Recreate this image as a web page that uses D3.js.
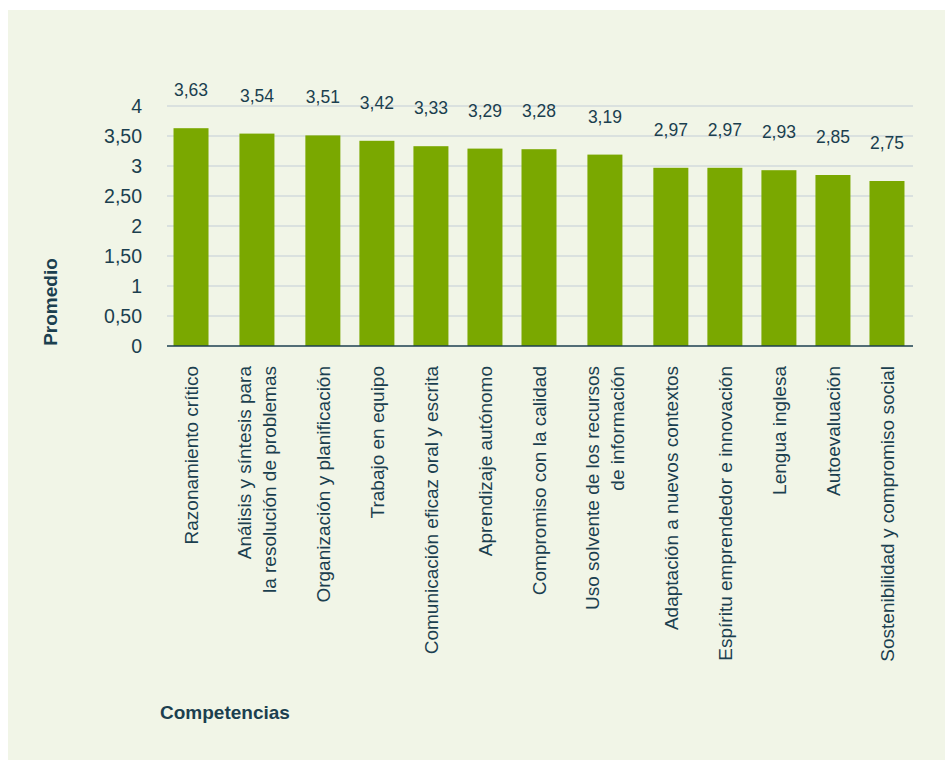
<!DOCTYPE html>
<html>
<head>
<meta charset="utf-8">
<script src="https://cdn.jsdelivr.net/npm/d3@7"></script>
<style>
  body { margin: 0; background: #ffffff; }
  text { font-family: "Liberation Sans", Arial, sans-serif; }
</style>
</head>
<body>
<div id="chart"></div>
<script>
// categories (line breaks as in the original labels)
const categories = [
    "Razonamiento crítico",
    "Análisis y síntesis para\nla resolución de problemas",
    "Organización y planificación",
    "Trabajo en equipo",
    "Comunicación eficaz oral y escrita",
    "Aprendizaje autónomo",
    "Compromiso con la calidad",
    "Uso solvente de los recursos\nde información",
    "Adaptación a nuevos contextos",
    "Espíritu emprendedor e innovación",
    "Lengua inglesa",
    "Autoevaluación",
    "Sostenibilidad y compromiso social"
];
const values = [3.63, 3.54, 3.51, 3.42, 3.33, 3.29, 3.28, 3.19, 2.97, 2.97, 2.93, 2.85, 2.75];
const yTicks = [0, 0.5, 1, 1.5, 2, 2.5, 3, 3.5, 4];
const yTickLabels = ["0", "0,50", "1", "1,50", "2", "2,50", "3", "3,50", "4"];

const W = 945, H = 760;
const textColor = "#1b3f4f";

const svg = d3.select("#chart").append("svg")
    .attr("width", W)
    .attr("height", H);

// panel background
svg.append("rect")
    .attr("x", 8).attr("y", 10)
    .attr("width", W - 8).attr("height", H - 10)
    .attr("fill", "#f1f5e7");

const plot = {left: 164, right: 914, top: 106, bottom: 346};

const yScale = d3.scaleLinear()
    .domain([0, 4])
    .range([plot.bottom, plot.top]);

// two-line labels get a wider slot
const lines = categories.map(c => c.split("\n"));
const weights = lines.map(l => l.length > 1 ? 1.44 : 1);
const starts = [0, ...d3.cumsum(weights)];
const wScale = d3.scaleLinear()
    .domain([0, d3.sum(weights)])
    .range([plot.left, plot.right]);
const xScale = d3.scaleOrdinal()
    .domain(categories)
    .range(categories.map((c, i) => wScale(starts[i] + weights[i] / 2)));
const barWidth = 35;

const g = svg.append("g");

// grid lines
g.selectAll(".grid")
    .data(yTicks.filter(t => t > 0))
    .enter().append("line")
    .attr("x1", plot.left + 3)
    .attr("x2", plot.right - 1)
    .attr("y1", d => yScale(d))
    .attr("y2", d => yScale(d))
    .attr("stroke", "#d2dadd")
    .attr("stroke-width", 1.5);

// y axis labels
const yAxis = d3.axisLeft(yScale)
    .tickValues(yTicks)
    .tickFormat((d, i) => yTickLabels[i])
    .tickSize(0)
    .tickPadding(0);

const yAxisG = g.append("g")
    .attr("transform", `translate(142, 0)`)
    .call(yAxis);
yAxisG.select(".domain").remove();
yAxisG.selectAll(".tick text")
    .attr("fill", textColor)
    .style("font-family", "Liberation Sans, Arial, sans-serif")
    .style("font-size", "19.5px");

// bars
g.selectAll(".bar")
    .data(values)
    .enter().append("rect")
    .attr("class", "bar")
    .attr("x", (d, i) => xScale(categories[i]) - barWidth / 2)
    .attr("y", d => yScale(d))
    .attr("width", barWidth)
    .attr("height", d => yScale(0) - yScale(d))
    .attr("fill", "#7aa800");

// value labels
g.selectAll(".val")
    .data(values)
    .enter().append("text")
    .attr("x", (d, i) => xScale(categories[i]))
    .attr("y", d => yScale(d) - 32)
    .attr("text-anchor", "middle")
    .attr("fill", textColor)
    .style("font-size", "17.5px")
    .text(d => d3.format(".2f")(d).replace(".", ","));

// baseline
g.append("line")
    .attr("x1", plot.left + 3)
    .attr("x2", plot.right - 1)
    .attr("y1", yScale(0))
    .attr("y2", yScale(0))
    .attr("stroke", "#1c3f50")
    .attr("stroke-width", 1.5);

// category labels, rotated
const catG = g.selectAll(".cat")
    .data(categories)
    .enter().append("text")
    .attr("class", "cat")
    .attr("text-anchor", "end")
    .attr("fill", textColor)
    .style("font-size", "19px")
    .attr("transform", d => `translate(${xScale(d)}, 366) rotate(-90)`);

catG.each(function(d, i) {
    const l = lines[i];
    const offset = -(l.length - 1) * 25 / 2;
    d3.select(this).selectAll("tspan")
        .data(l)
        .enter().append("tspan")
        .attr("x", 0)
        .attr("y", (t, j) => offset + j * 25)
        .attr("dy", "0.35em")
        .text(t => t);
});

// axis titles
svg.append("text")
    .attr("transform", "translate(57, 302) rotate(-90)")
    .attr("text-anchor", "middle")
    .attr("fill", textColor)
    .style("font-size", "19px")
    .style("font-weight", "bold")
    .text("Promedio");

svg.append("text")
    .attr("x", 160)
    .attr("y", 719)
    .attr("fill", textColor)
    .style("font-size", "19px")
    .style("font-weight", "bold")
    .text("Competencias");
</script>
</body>
</html>
